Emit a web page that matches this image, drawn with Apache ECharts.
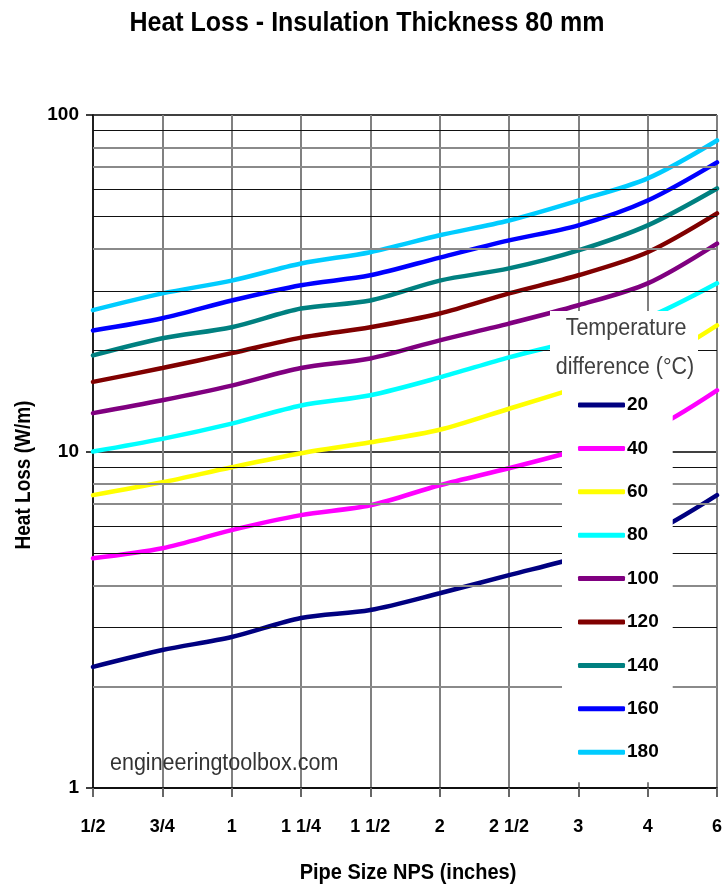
<!DOCTYPE html>
<html>
<head>
<meta charset="utf-8">
<script src="https://cdn.jsdelivr.net/npm/echarts@6/dist/echarts.min.js"></script>
<style>html,body{margin:0;padding:0;background:#fff}#c{width:725px;height:890px}</style>
</head>
<body>
<div id="c"></div>
<script>
const categories = ['1/2','3/4','1','1 1/4','1 1/2','2','2 1/2','3','4','6'];
const seriesNames = ['20','40','60','80','100','120','140','160','180'];
const d20  = [2.29, 2.57, 2.81, 3.20, 3.38, 3.79, 4.29, 4.85, 5.65, 7.42];
const d40  = [4.82, 5.16, 5.84, 6.47, 6.92, 7.94, 8.92, 10.1, 11.5, 15.2];
const d60  = [7.42, 8.10, 8.98, 9.88, 10.65, 11.6, 13.4, 15.5, 18.0, 23.7];
const d80  = [10.0, 10.9, 12.1, 13.7, 14.7, 16.6, 19.05, 21.5, 25.0, 31.6];
const d100 = [13.0, 14.2, 15.7, 17.7, 18.9, 21.4, 24.0, 27.2, 31.6, 41.5];
const d120 = [16.1, 17.7, 19.6, 21.8, 23.4, 25.7, 29.5, 33.4, 39.1, 51.0];
const d140 = [19.3, 21.7, 23.4, 26.6, 28.1, 32.2, 35.0, 39.6, 47.0, 60.5];
const d160 = [22.9, 24.9, 28.1, 31.2, 33.4, 37.7, 42.4, 47.0, 55.7, 72.3];
const d180 = [26.3, 29.5, 32.2, 36.2, 39.1, 43.9, 48.6, 55.7, 64.8, 84.0];
const yTickLabels = ['1','10','100'];
const minorGrid = [2,3,4,5,6,7,8,9,20,30,40,50,60,70,80,90];

const allData = [d20,d40,d60,d80,d100,d120,d140,d160,d180];
const colors = ['#000080','#FF00FF','#FFFF00','#00FFFF','#800080','#800000','#008080','#0000FF','#00CCFF'];
const FONT = '"Liberation Sans",Arial,sans-serif';
const grayLines = new Set([80,70,40,8,7,4,2]);

const chart = echarts.init(document.getElementById('c'), null, {renderer:'canvas'});
const series = allData.map((d,i)=>({
  name: seriesNames[i], type:'line', data:d, smooth:0.3, symbol:'none',
  lineStyle:{color:colors[i], width:4.5, cap:'round'}, itemStyle:{color:colors[i]}
}));
series.unshift({
  name:'grid', type:'line', data:[], silent:true,
  markLine:{silent:true, symbol:'none', label:{show:false}, animation:false,
    data: minorGrid.map(v=>({yAxis:v, lineStyle: grayLines.has(v)
      ? {color:'#8a8a8a', width:2, type:'solid'}
      : {color:'#111', width:1.2, type:'solid'}}))}
});

chart.setOption({
  animation:false,
  backgroundColor:'#fff',
  grid:{left:93, right:8, top:115, bottom:102},
  xAxis:{type:'category', data:categories, boundaryGap:false,
    axisLine:{lineStyle:{color:'#000', width:1.5}},
    axisTick:{alignWithLabel:true, length:9, lineStyle:{color:'#666', width:2}},
    axisLabel:{margin:30, fontFamily:FONT, fontWeight:'bold', fontSize:18, color:'#000'},
    splitLine:{show:true, lineStyle:{color:'#808080', width:2}}},
  yAxis:{type:'log', logBase:10, min:1, max:100,
    axisLine:{show:true, lineStyle:{color:'#000', width:1.5}},
    axisTick:{show:true, length:7, lineStyle:{color:'#000', width:1.5}},
    axisLabel:{margin:14, fontFamily:FONT, fontWeight:'bold', fontSize:19, color:'#000',
      formatter:(v)=>{const s=String(Math.round(v)); return yTickLabels.includes(s)?s:'';}},
    splitLine:{show:true, lineStyle:{color:'#000', width:1.5}},
    minorTick:{show:false}, minorSplitLine:{show:false}},
  legend:{data:seriesNames, orient:'vertical', left:562, top:385,
    backgroundColor:'#fff', padding:[10,14,20,16], itemGap:23.4,
    itemWidth:47, itemHeight:5, icon:'roundRect', z:20,
    textStyle:{fontFamily:FONT, fontWeight:'bold', fontSize:19, color:'#000', lineHeight:20, padding:[0,0,0,-3]}},
  graphic:[
    {type:'text', z:101, x:367, y:23, scaleY:1.12, style:{text:'Heat Loss - Insulation Thickness 80 mm', fontFamily:FONT, fontWeight:'bold', fontSize:25, fill:'#000', align:'center', verticalAlign:'middle'}},
    {type:'text', z:101, x:408, y:873, scaleY:1.12, style:{text:'Pipe Size NPS (inches)', fontFamily:FONT, fontWeight:'bold', fontSize:20, fill:'#000', align:'center', verticalAlign:'middle'}},
    {type:'text', z:101, x:24, y:475, rotation:Math.PI/2, scaleY:1.12, style:{text:'Heat Loss (W/m)', fontFamily:FONT, fontWeight:'bold', fontSize:19, fill:'#000', align:'center', verticalAlign:'middle'}},
    {type:'rect', z:100, shape:{x:550, y:311, width:148, height:76}, style:{fill:'#fff'}},
    {type:'text', z:101, x:626, y:328, scaleY:1.12, style:{text:'Temperature', fontFamily:FONT, fontSize:21.5, fill:'#404040', align:'center', verticalAlign:'middle'}},
    {type:'text', z:101, x:625, y:367, scaleY:1.12, style:{text:'difference (°C)', fontFamily:FONT, fontSize:21.5, fill:'#404040', align:'center', verticalAlign:'middle'}},
    {type:'text', z:101, x:110, y:763, scaleY:1.1, style:{text:'engineeringtoolbox.com', fontFamily:FONT, fontSize:21.5, fill:'#333', align:'left', verticalAlign:'middle'}}
  ],
  series: series
});
</script>
</body>
</html>
